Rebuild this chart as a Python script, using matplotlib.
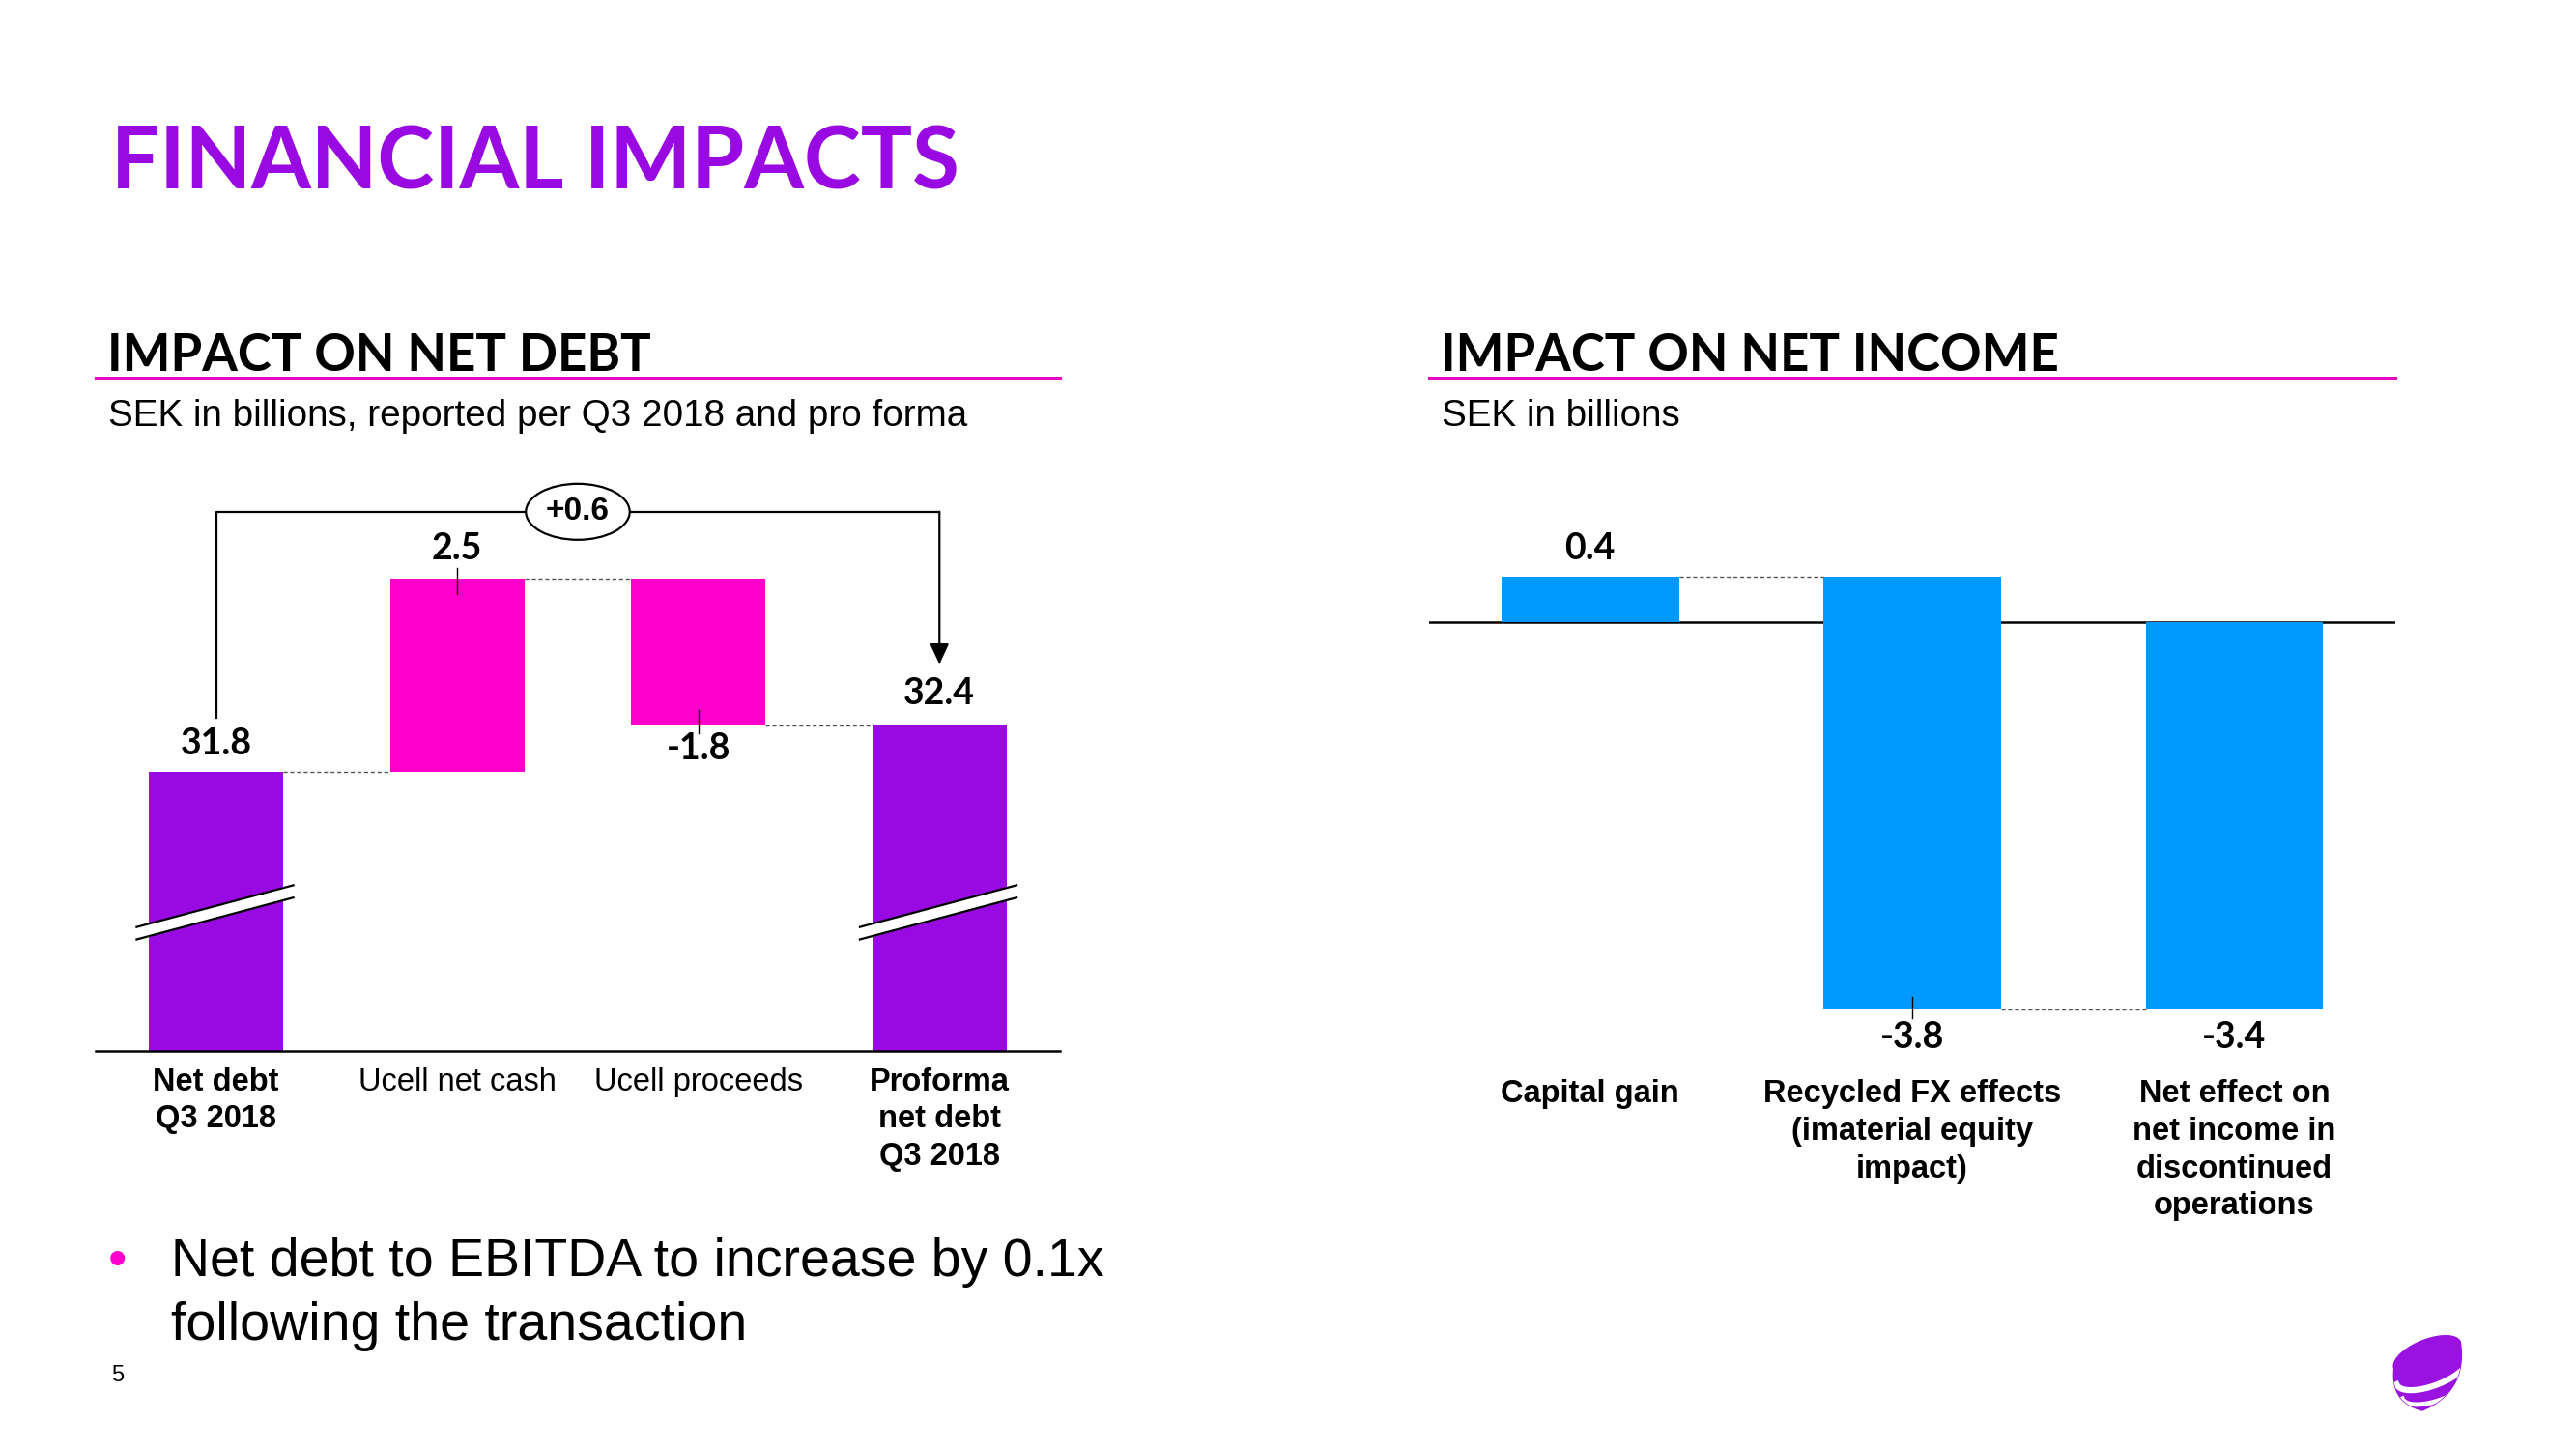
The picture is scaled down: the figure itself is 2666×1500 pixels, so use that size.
import numpy as np
import matplotlib.pyplot as plt
from matplotlib.patches import Polygon

# ---- data ----
debt_labels = ['Net debt\nQ3 2018', 'Ucell net cash', 'Ucell proceeds', 'Proforma\nnet debt\nQ3 2018']
debt_bold = [True, False, False, True]
debt_start = 31.8
debt_changes = [2.5, -1.8]
debt_end = 32.4
debt_delta = '+0.6'

income_labels = ['Capital gain', 'Recycled FX effects\n(imaterial equity\nimpact)',
                 'Net effect on\nnet income in\ndiscontinued\noperations']
income_changes = [0.4, -3.8]
income_total = -3.4

PURPLE = '#990AE3'
PINK = '#FF00CC'
LINE_PINK = '#E60BC0'
BLUE = '#0099FF'
DASH = '#555555'

HEAD = ['Lato', 'DejaVu Sans']
BODY = ['Liberation Sans', 'DejaVu Sans']
NARROW = ['Liberation Sans Narrow', 'Liberation Sans', 'DejaVu Sans']

W, H = 2666, 1500
fig = plt.figure(figsize=(W / 100, H / 100), dpi=100)

# background axes in pixel units for slide text / decorations
bg = fig.add_axes([0, 0, 1, 1])
bg.set_xlim(0, W)
bg.set_ylim(H, 0)
bg.axis('off')

bg.text(115, 196, 'FINANCIAL IMPACTS', fontsize=64, fontweight='bold', family=HEAD,
        color=PURPLE, va='baseline')

for x0, x1, head, sub in [(99, 1097, 'IMPACT ON NET DEBT', 'SEK in billions, reported per Q3 2018 and pro forma'),
                          (1479, 2479, 'IMPACT ON NET INCOME', 'SEK in billions')]:
    bg.text(x0 + 12, 384, head, fontsize=38, fontweight='bold', family=HEAD, va='baseline')
    bg.plot([x0, x1], [391, 391], color=LINE_PINK, lw=2.2)
    bg.text(x0 + 13, 441, sub, fontsize=27.8, family=BODY, va='baseline')

bg.text(121, 1321, '\u2022', fontsize=40, color=PINK, family=BODY, ha='center', va='baseline')
bg.text(177, 1321, 'Net debt to EBITDA to increase by 0.1x', fontsize=40, family=NARROW, va='baseline')
bg.text(177, 1387, 'following the transaction', fontsize=40, family=NARROW, va='baseline')
bg.text(122, 1430, '5', fontsize=17, family=NARROW, va='baseline', ha='center')

# logo (rough egg with two white bands)
cx, cy, a, b, phi = 2512, 1403, 37, 16, np.deg2rad(22)
def rot(px, py):
    return cx + px * np.cos(phi) + py * np.sin(phi), cy - px * np.sin(phi) + py * np.cos(phi)
t = np.linspace(np.pi, 2 * np.pi, 60)
tx, ty = rot(a * np.cos(t), b * np.sin(t))
L = np.array([tx[0], ty[0]]); R = np.array([tx[-1], ty[-1]])
bot = np.array([2507, 1460])
s = np.linspace(0, 1, 30)[:, None]
c1 = np.array([2554, 1440]); c2 = np.array([2474, 1452])
seg1 = (1 - s) ** 2 * R + 2 * (1 - s) * s * c1 + s ** 2 * bot
seg2 = (1 - s) ** 2 * bot + 2 * (1 - s) * s * c2 + s ** 2 * L
pts = np.vstack([np.column_stack([tx, ty]), seg1, seg2])
egg = Polygon(pts, closed=True, color='#9A12E0')
bg.add_patch(egg)
for d, lw in [(16, 4.5), (32, 3.5)]:
    t2 = np.linspace(0, np.pi, 60)
    sx, sy = rot(a * 1.1 * np.cos(t2), b * np.sin(t2) + d)
    ln, = bg.plot(sx, sy, color='white', lw=lw)
    ln.set_clip_path(egg)

# ---- left chart: net debt waterfall ----
px_per_unit = 80.2
y_floor = 28.2
ax1 = fig.add_axes([99 / W, 1 - 1088 / H, 998 / W, 595 / H])
ax1.patch.set_alpha(0)
ax1.set_xlim(-0.5, 3.5)
ax1.set_ylim(y_floor, y_floor + 595 / px_per_unit)
for sp in ['top', 'left', 'right']:
    ax1.spines[sp].set_visible(False)
ax1.spines['bottom'].set_linewidth(1.8)
ax1.set_yticks([])

w = 0.557
cash_top = debt_start + debt_changes[0]
ax1.bar(0, debt_start, width=w, color=PURPLE)
ax1.bar(1, debt_changes[0], bottom=debt_start, width=w, color=PINK)
ax1.bar(2, cash_top - debt_end, bottom=debt_end, width=w, color=PINK)
ax1.bar(3, debt_end, width=w, color=PURPLE)

# broken-axis marks
for xc in [0, 3]:
    band = Polygon([(xc - 0.33, 29.64), (xc + 0.32, 30.18), (xc + 0.32, 30.34), (xc - 0.33, 29.80)],
                   closed=True, fc='white', ec='none', zorder=3)
    ax1.add_patch(band)
    for y0, y1 in [(29.64, 30.18), (29.80, 30.34)]:
        ax1.plot([xc - 0.33, xc + 0.32], [y0, y1], color='black', lw=1.6, zorder=4)

# connectors
dash = dict(color=DASH, lw=1, ls=(0, (3, 2)))
ax1.plot([w / 2, 1 - w / 2], [debt_start] * 2, **dash)
ax1.plot([1 + w / 2, 2 - w / 2], [cash_top] * 2, **dash)
ax1.plot([2 + w / 2, 3 - w / 2], [debt_end] * 2, **dash)

# bracket with delta
br_y = 35.16
ax1.plot([0, 0, 3], [debt_start + 0.7, br_y, br_y], color='black', lw=1.6, clip_on=False)
ax1.annotate('', xy=(3, debt_end + 0.79), xytext=(3, br_y),
             arrowprops=dict(arrowstyle='-|>,head_length=0.65,head_width=0.3', color='black',
                             lw=1.6, shrinkA=0, shrinkB=0, mutation_scale=20))
ax1.text(1.5, br_y, debt_delta, ha='center', va='center', fontsize=24, fontweight='bold',
         family=NARROW, bbox=dict(boxstyle='ellipse,pad=0.15', fc='white', ec='black', lw=1.6))

# value labels
vfont = dict(fontsize=27, fontweight='bold', family=HEAD, ha='center', va='center')
ax1.text(0, debt_start + 0.37, f'{debt_start:.1f}', **vfont)
ax1.text(1, cash_top + 0.38, f'{debt_changes[0]:.1f}', **vfont)
ax1.text(2, debt_end - 0.30, f'{debt_changes[1]:.1f}', **vfont)
ax1.text(3, debt_end + 0.41, f'{debt_end:.1f}', **vfont)
ax1.plot([1, 1], [cash_top + 0.13, cash_top - 0.2], color='black', lw=1)
ax1.plot([2, 2], [debt_end + 0.2, debt_end - 0.1], color='black', lw=1)

ax1.set_xticks(range(4), debt_labels)
ax1.tick_params(axis='x', length=0, pad=12)
for lab, bold in zip(ax1.get_xticklabels(), debt_bold):
    lab.set_fontfamily(BODY)
    lab.set_fontsize(23.5)
    lab.set_fontweight('bold' if bold else 'normal')
    lab.set_linespacing(1.32)

# ---- right chart: net income ----
px2 = 117.8
ax2 = fig.add_axes([1479 / W, 1 - 1088 / H, 1000 / W, 595 / H])
ax2.patch.set_alpha(0)
ax2.set_xlim(-0.5, 2.5)
ax2.set_ylim(-(1088 - 644) / px2, (644 - 493) / px2)
for sp in ax2.spines.values():
    sp.set_visible(False)
ax2.set_yticks([])
ax2.axhline(0, color='black', lw=1.8, zorder=1)

w2 = 0.551
ax2.bar(0, income_changes[0], width=w2, color=BLUE, zorder=2)
ax2.bar(1, income_changes[1], bottom=income_changes[0], width=w2, color=BLUE, zorder=2)
ax2.bar(2, income_total, width=w2, color=BLUE, zorder=2)
ax2.plot([w2 / 2, 1 - w2 / 2], [income_changes[0]] * 2, **dash)
ax2.plot([1 + w2 / 2, 2 - w2 / 2], [income_total] * 2, **dash)

ax2.text(0, income_changes[0] + 0.245, f'{income_changes[0]:.1f}', **vfont)
ax2.text(1, income_total - 0.25, f'{income_changes[1]:.1f}', **vfont)
ax2.text(2, income_total - 0.25, f'{income_total:.1f}', **vfont)
ax2.plot([1, 1], [income_total + 0.106, income_total - 0.08], color='black', lw=1, zorder=3)

ax2.set_xticks(range(3), income_labels)
ax2.tick_params(axis='x', length=0, pad=21)
for lab in ax2.get_xticklabels():
    lab.set_fontfamily(BODY)
    lab.set_fontsize(23.5)
    lab.set_fontweight('bold')
    lab.set_linespacing(1.32)

fig.savefig('out.png', dpi=100, facecolor='white')
